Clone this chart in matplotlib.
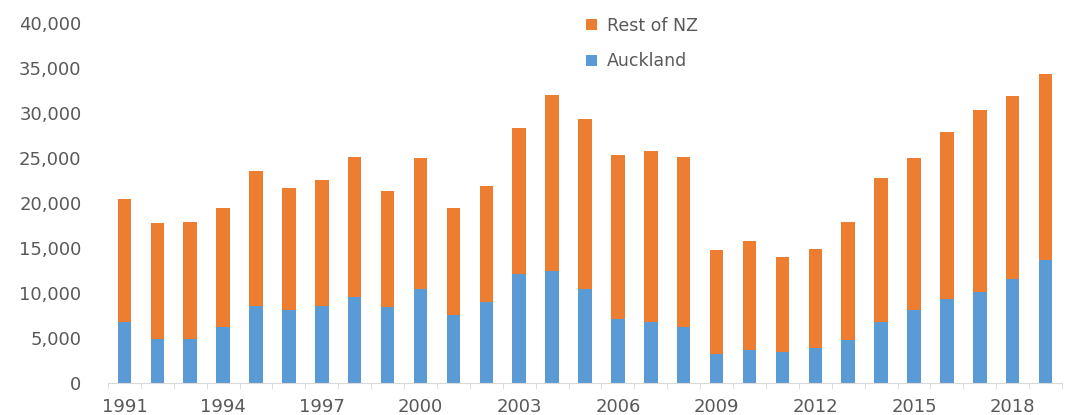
import matplotlib
matplotlib.use("Agg")
import matplotlib.pyplot as plt
import numpy as np

years = list(range(1991, 2020))
auckland = [6790, 4930, 4930, 6230, 8530, 8160, 8530, 9570, 8460, 10390,
            7530, 9010, 12090, 12460, 10390, 7160, 6790, 6230, 3260, 3640,
            3450, 3930, 4820, 6790, 8090, 9310, 10130, 11610, 13650]
totals = [20400, 17730, 17880, 19400, 23550, 21660, 22550, 25150, 21290, 24960,
          19400, 21850, 28300, 32050, 29300, 25300, 25820, 25150, 14760, 15800,
          14020, 14910, 17880, 22740, 25000, 27890, 30340, 31900, 34350]
rest_nz = [t - a for t, a in zip(totals, auckland)]
yticks = [0, 5000, 10000, 15000, 20000, 25000, 30000, 35000, 40000]

blue = "#5B9BD5"
orange = "#ED7D31"
gray = "#595959"

plt.rcParams['font.family'] = ['DejaVu Sans']

fig = plt.figure(figsize=(10.7, 4.15), dpi=100)
ax = fig.add_axes([108/1070, 1 - 383/415, (1062-108)/1070, (383-23)/415])

x = np.arange(len(years))
b1 = ax.bar(x, auckland, width=0.41, color=blue, label="Auckland")
b2 = ax.bar(x, rest_nz, width=0.41, bottom=auckland, color=orange, label="Rest of NZ")

ax.set_xlim(-0.5, len(years) - 0.5)
ax.set_ylim(0, 40000)
ax.set_yticks(yticks)
ax.set_yticklabels([f"{v:,}" for v in yticks])
ax.set_xticks(x[::3])
ax.set_xticklabels([str(years[i]) for i in range(0, len(years), 3)])
ax.set_xticks(np.arange(-0.5, len(years), 1), minor=True)

for s in ["top", "right", "left"]:
    ax.spines[s].set_visible(False)
ax.spines["bottom"].set_color("#D9D9D9")
ax.tick_params(axis="y", length=0, labelsize=13, labelcolor=gray, pad=19)
ax.tick_params(axis="x", which="major", length=0, labelsize=13, labelcolor=gray, pad=11)
ax.tick_params(axis="x", which="minor", length=4, color="#D9D9D9", direction="out")

leg = ax.legend(handles=[b2, b1], loc="upper left", bbox_to_anchor=(0.485, 1.06),
                frameon=False, fontsize=12.5, handlelength=0.6, handleheight=0.6,
                handletextpad=0.6, labelspacing=1.0)
for t in leg.get_texts():
    t.set_color(gray)

fig.savefig("out.png", dpi=100)
